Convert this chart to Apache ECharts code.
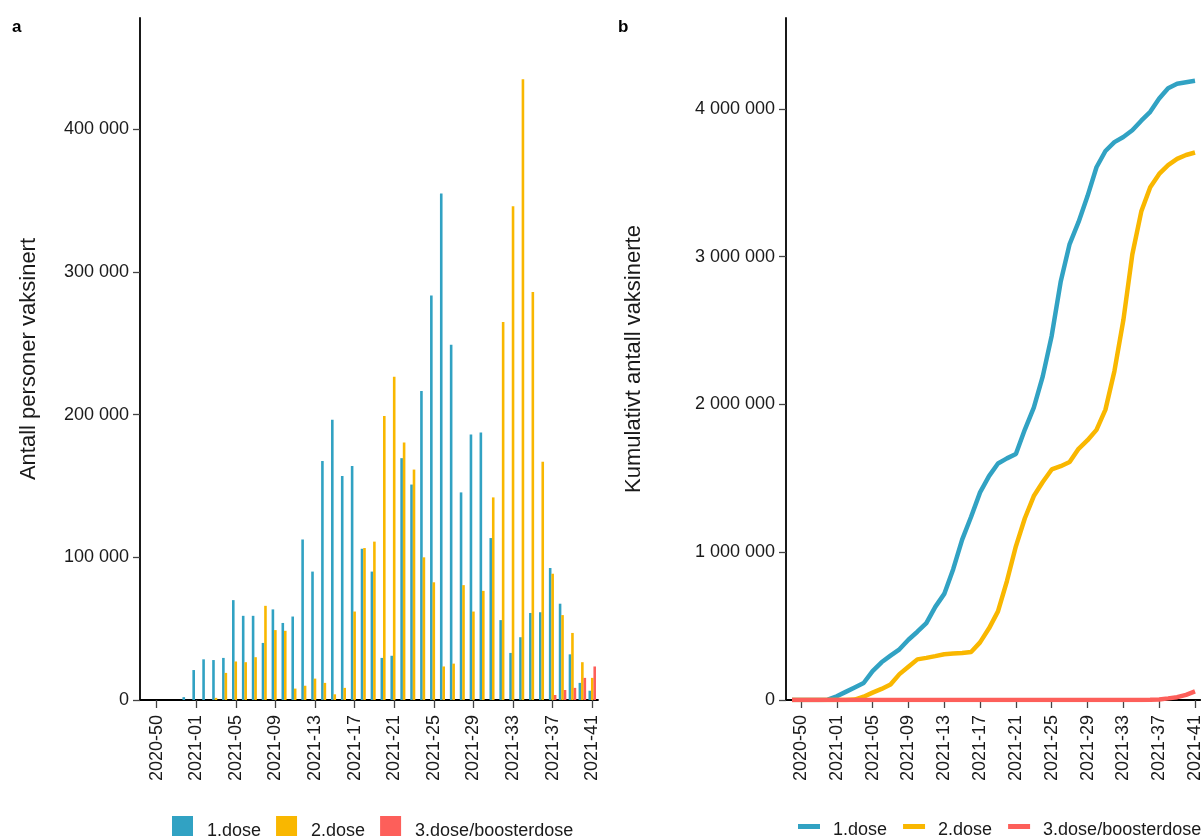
<!DOCTYPE html>
<html>
<head>
<meta charset="utf-8">
<title>Vaksinasjon per uke</title>
<script src="https://cdn.jsdelivr.net/npm/echarts@6/dist/echarts.min.js"></script>
<style>
  html, body { margin: 0; padding: 0; background: #fff; }
  #chart { width: 1204px; height: 836px; }
</style>
</head>
<body>
<div id="chart"></div>
<script>
// ISO weeks shown on the x axis (first week is an empty lead-in week)
const weeks = [
  '2020-49', '2020-50', '2020-51', '2020-52', '2020-53',
  '2021-01', '2021-02', '2021-03', '2021-04', '2021-05', '2021-06', '2021-07', '2021-08',
  '2021-09', '2021-10', '2021-11', '2021-12', '2021-13', '2021-14', '2021-15', '2021-16',
  '2021-17', '2021-18', '2021-19', '2021-20', '2021-21', '2021-22', '2021-23', '2021-24',
  '2021-25', '2021-26', '2021-27', '2021-28', '2021-29', '2021-30', '2021-31', '2021-32',
  '2021-33', '2021-34', '2021-35', '2021-36', '2021-37', '2021-38', '2021-39', '2021-40',
  '2021-41'
];

// Week indices that get a tick and a label
const tickWeeks = [1, 5, 9, 13, 17, 21, 25, 29, 33, 37, 41, 45];

// Value ticks of the two y axes
const weeklyTicks = [0, 100000, 200000, 300000, 400000];
const cumulativeTicks = [0, 1000000, 2000000, 3000000, 4000000];

const seriesNames = ['1.dose', '2.dose', '3.dose/boosterdose'];

// Persons vaccinated per week
const dose1Weekly = [
  0, 0, 0, 0, 2000,
  21000, 28500, 28000, 29500, 70000, 59000, 59000, 40000,
  63500, 54000, 58500, 112500, 90000, 167500, 196500, 157000,
  164000, 106000, 90000, 29500, 31000, 169500, 151000, 216500,
  283500, 355000, 249000, 145500, 186000, 187500, 113500, 56000,
  33000, 44000, 61000, 61500, 92500, 67500, 32000, 12000,
  6500
];
const dose2Weekly = [
  0, 0, 0, 0, 0,
  0, 0, 1500, 19000, 27000, 26500, 30000, 66000,
  49000, 48500, 8000, 10000, 15000, 12000, 4000, 8500,
  62000, 106500, 111000, 199000, 226500, 180500, 161500, 100000,
  82500, 23500, 25500, 80500, 62000, 76500, 142000, 265000,
  346000, 435000, 286000, 167000, 88500, 59500, 47000, 26500,
  15500
];
const dose3Weekly = [
  0, 0, 0, 0, 0,
  0, 0, 0, 0, 0, 0, 0, 0,
  0, 0, 0, 0, 0, 0, 0, 0,
  0, 0, 0, 0, 0, 0, 0, 0,
  0, 0, 0, 0, 0, 0, 0, 0,
  0, 0, 0, 0, 3500, 7000, 8500, 15500,
  23500
];

// Cumulative number of vaccinated persons
const dose1Cumulative = [
  0, 0, 0, 0, 2000,
  25000, 55000, 85000, 115000, 195000, 255000, 300000, 343000,
  408000, 462000, 520000, 630000, 718000, 885000, 1085000, 1240000,
  1405000, 1515000, 1600000, 1635000, 1665000, 1830000, 1978000, 2190000,
  2465000, 2830000, 3085000, 3235000, 3410000, 3605000, 3715000, 3775000,
  3810000, 3855000, 3920000, 3980000, 4070000, 4140000, 4170000, 4180000,
  4190000
];
const dose2Cumulative = [
  0, 0, 0, 0, 0,
  0, 0, 3000, 22000, 50000, 75000, 105000, 175000,
  225000, 275000, 285000, 297000, 310000, 315000, 318000, 325000,
  390000, 485000, 600000, 805000, 1040000, 1230000, 1380000, 1475000,
  1560000, 1582000, 1610000, 1700000, 1758000, 1828000, 1965000, 2225000,
  2570000, 3015000, 3305000, 3470000, 3560000, 3620000, 3662000, 3688000,
  3705000
];
const dose3Cumulative = [
  0, 0, 0, 0, 0,
  0, 0, 0, 0, 0, 0, 0, 0,
  0, 0, 0, 0, 0, 0, 0, 0,
  0, 0, 0, 0, 0, 0, 0, 0,
  0, 0, 0, 0, 0, 0, 0, 0,
  0, 0, 0, 1000, 4000, 11000, 19000, 35000,
  58000
];

const colors = ['#31a2c3', '#f9b700', '#fd5f5a'];
const FONT = '"Liberation Sans", Arial, Helvetica, sans-serif';
const TEXT = '#1a1a1a';

function spaced(v) {
  return String(v).replace(/\B(?=(\d{3})+(?!\d))/g, ' ');
}
function pairs(arr) {
  return arr.map((v, k) => [k, v]);
}

function xAxisFor(gridIndex) {
  return {
    type: 'value',
    gridIndex: gridIndex,
    min: -0.67,
    max: 45.58,
    axisLine: { show: true, onZero: false, lineStyle: { color: '#000', width: 1.8 } },
    axisTick: { show: true, customValues: tickWeeks, length: 8, lineStyle: { color: '#444', width: 1.3 } },
    axisLabel: {
      customValues: tickWeeks,
      rotate: 90,
      margin: 15,
      fontFamily: FONT,
      fontSize: 18,
      color: TEXT,
      formatter: v => weeks[Math.round(v)] || ''
    },
    splitLine: { show: false }
  };
}

function yAxisFor(gridIndex, max, ticks, name, nameGap) {
  return {
    type: 'value',
    gridIndex: gridIndex,
    min: 0,
    max: max,
    name: name,
    nameLocation: 'middle',
    nameGap: nameGap,
    nameTextStyle: { fontFamily: FONT, fontSize: 22, color: TEXT },
    axisLine: { show: true, onZero: false, lineStyle: { color: '#000', width: 1.8 } },
    axisTick: { show: true, customValues: ticks, length: 7, lineStyle: { color: '#444', width: 1.3 } },
    axisLabel: {
      customValues: ticks,
      margin: 11,
      fontFamily: FONT,
      fontSize: 18,
      color: TEXT,
      formatter: v => spaced(v)
    },
    splitLine: { show: false }
  };
}

const weeklyData = [dose1Weekly, dose2Weekly, dose3Weekly];
const cumulativeData = [dose1Cumulative, dose2Cumulative, dose3Cumulative];

const barSeries = seriesNames.map((name, s) => ({
  name: name,
  type: 'bar',
  xAxisIndex: 0,
  yAxisIndex: 0,
  barWidth: 2.6,
  barGap: '-5%',
  itemStyle: { color: colors[s] },
  data: pairs(weeklyData[s])
}));

const lineSeries = seriesNames.map((name, s) => ({
  name: name,
  type: 'line',
  xAxisIndex: 1,
  yAxisIndex: 1,
  showSymbol: false,
  symbol: 'none',
  lineStyle: { color: colors[s], width: 4.5 },
  itemStyle: { color: colors[s] },
  z: 3 + s,
  data: pairs(cumulativeData[s])
}));

function legendFor(left, top, iconW, iconH, gap, padTop, padLeft) {
  return {
    left: left,
    top: top,
    padding: 0,
    width: 1204 - left,
    itemWidth: iconW,
    itemHeight: iconH,
    itemGap: gap,
    selectedMode: false,
    data: seriesNames.map(n => ({ name: n, icon: 'rect' })),
    formatter: n => '{t|' + n + '}',
    textStyle: {
      fontFamily: FONT, fontSize: 18, color: TEXT,
      rich: { t: { fontFamily: FONT, fontSize: 18, color: TEXT, padding: [padTop, 0, 0, padLeft] } }
    }
  };
}

const chart = echarts.init(document.getElementById('chart'), null, { renderer: 'canvas' });
chart.setOption({
  animation: false,
  backgroundColor: '#fff',
  title: [
    { text: 'a', left: 7, top: 14, textStyle: { fontFamily: FONT, fontSize: 17, fontWeight: 'bold', color: '#000' } },
    { text: 'b', left: 613, top: 14, textStyle: { fontFamily: FONT, fontSize: 17, fontWeight: 'bold', color: '#000' } }
  ],
  grid: [
    { left: 140, top: 18, width: 458, bottom: 136 },
    { left: 786, top: 18, width: 417, bottom: 136 }
  ],
  xAxis: [xAxisFor(0), xAxisFor(1)],
  yAxis: [
    yAxisFor(0, 478000, weeklyTicks, 'Antall personer vaksinert', 100),
    yAxisFor(1, 4615000, cumulativeTicks, 'Kumulativt antall vaksinerte', 141)
  ],
  legend: [
    legendFor(172, 816, 21, 21, 15, 10, 9),
    legendFor(798, 821.5, 22, 5, 16, 8, 8)
  ],
  series: barSeries.concat(lineSeries)
});
</script>
</body>
</html>
